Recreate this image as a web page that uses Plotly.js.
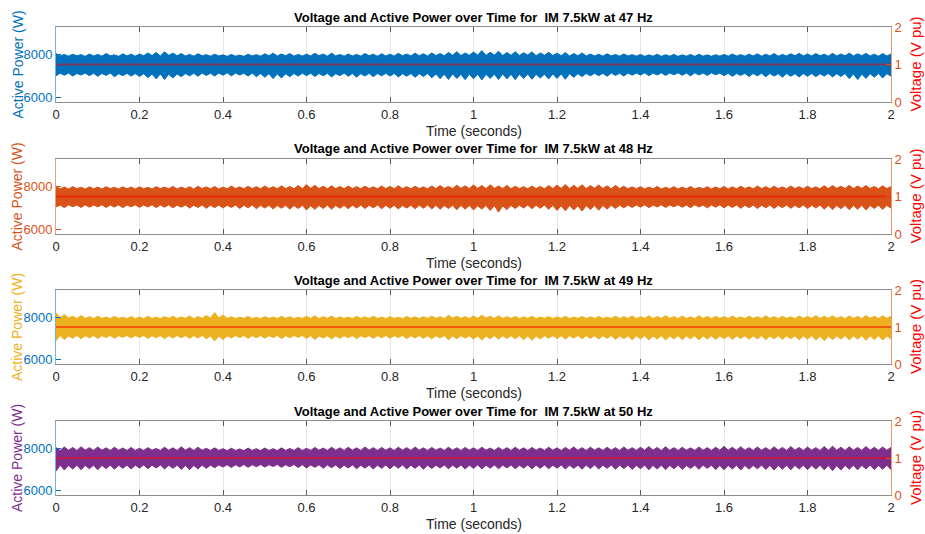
<!DOCTYPE html>
<html>
<head>
<meta charset="utf-8">
<script src="https://cdn.plot.ly/plotly-3.0.1.min.js"></script>
<style>
  html, body { margin: 0; padding: 0; background: #ffffff; }
  #chart { width: 925px; height: 534px; }
</style>
</head>
<body>
<div id="chart"></div>
<script>
// Supply frequencies of the four simulation runs (one panel each)
const frequenciesHz = [47, 48, 49, 50];

// Active power ripple envelope (W): successive peaks (upper) and troughs (lower),
// one value every 0.01 s from 0 to 2 s (ten values per row = 0.1 s)
const sampleStep = 0.01;

const powerUpper47 = [
  8060, 7950, 8020, 7940, 8030, 7960, 8010, 7930, 8040, 7950,
  8020, 7940, 8060, 7960, 8000, 7930, 8050, 7950, 8030, 7940,
  8040, 7960, 8090, 7970, 8110, 7950, 8140, 7980, 8080, 7960,
  8060, 7950, 8020, 7940, 8050, 7960, 8010, 7940, 8030, 7950,
  8000, 7930, 8020, 7940, 7990, 7930, 8030, 7950, 8010, 7940,
  8050, 7960, 8080, 7950, 8040, 7960, 8060, 7940, 8020, 7950,
  8030, 7950, 8070, 7960, 8040, 7940, 8080, 7950, 8020, 7940,
  8040, 7950, 8020, 7940, 8060, 7960, 8030, 7940, 8050, 7950,
  8030, 7950, 8070, 7960, 8040, 7950, 8080, 7960, 8050, 7950,
  8090, 7970, 8060, 7960, 8110, 7980, 8150, 7970, 8090, 7980,
  8130, 7990, 8200, 7980, 8120, 7990, 8170, 7970, 8110, 7980,
  8150, 7970, 8100, 7990, 8140, 7960, 8090, 7980, 8120, 7970,
  8080, 7960, 8110, 7950, 8060, 7960, 8090, 7950, 8040, 7950,
  8030, 7940, 8050, 7950, 8020, 7940, 8040, 7950, 8010, 7940,
  8020, 7930, 8000, 7940, 8030, 7930, 8010, 7940, 8020, 7930,
  8000, 7940, 8020, 7930, 8030, 7940, 8000, 7930, 8010, 7940,
  8020, 7940, 8040, 7950, 8010, 7940, 8030, 7950, 8050, 7940,
  8030, 7950, 8060, 7940, 8020, 7950, 8050, 7960, 8070, 7950,
  8040, 7950, 8060, 7960, 8030, 7940, 8070, 7950, 8040, 7960,
  8080, 7950, 8050, 7960, 8070, 7950, 8030, 7940, 8060, 7950,
  8040
];
const powerLower47 = [
  7020, 7140, 7050, 7150, 7010, 7130, 7060, 7150, 7030, 7140,
  7000, 7130, 7040, 7150, 6980, 7120, 7030, 7140, 7010, 7130,
  6990, 7120, 6940, 7100, 6880, 7110, 6850, 7090, 6920, 7110,
  6980, 7130, 7020, 7140, 7000, 7150, 7040, 7140, 7010, 7150,
  7050, 7160, 7020, 7150, 7060, 7140, 7010, 7150, 6980, 7130,
  6950, 7120, 6890, 7110, 6920, 7120, 6980, 7130, 7010, 7140,
  7030, 7140, 6990, 7130, 7020, 7140, 6970, 7120, 7030, 7150,
  7000, 7130, 6960, 7120, 7010, 7140, 6980, 7130, 7020, 7140,
  7010, 7130, 6970, 7120, 7000, 7130, 6950, 7120, 6990, 7130,
  6930, 7110, 6890, 7100, 6850, 7110, 6900, 7090, 6840, 7100,
  6880, 7100, 6830, 7090, 6900, 7100, 6850, 7110, 6880, 7090,
  6840, 7100, 6900, 7110, 6860, 7090, 6920, 7100, 6870, 7110,
  6900, 7110, 6860, 7120, 6950, 7120, 6990, 7130, 7020, 7140,
  7030, 7140, 7000, 7150, 7040, 7140, 7010, 7150, 7050, 7150,
  7060, 7160, 7030, 7150, 7060, 7160, 7040, 7150, 7070, 7160,
  7050, 7150, 7020, 7160, 7060, 7150, 7040, 7160, 7070, 7150,
  7030, 7140, 7000, 7130, 7040, 7140, 6990, 7130, 7020, 7140,
  6980, 7130, 7010, 7120, 6960, 7130, 7000, 7120, 6970, 7130,
  7000, 7130, 6980, 7120, 7010, 7130, 6970, 7120, 6990, 7130,
  6890, 7110, 6850, 7100, 6900, 7120, 6960, 7130, 6920, 7120,
  7010
];

const powerUpper48 = [
  8020, 7910, 7990, 7900, 8010, 7920, 7980, 7900, 8000, 7910,
  7990, 7900, 8010, 7920, 7980, 7900, 8000, 7910, 7990, 7900,
  8000, 7910, 7980, 7900, 8010, 7920, 7990, 7910, 8020, 7900,
  7990, 7910, 8010, 7900, 8030, 7920, 8000, 7910, 8020, 7900,
  7990, 7910, 8040, 7920, 8000, 7910, 8030, 7920, 8010, 7910,
  8040, 7920, 8010, 7910, 8050, 7920, 8020, 7910, 8060, 7920,
  8100, 7930, 8070, 7920, 8030, 7910, 8050, 7920, 8020, 7910,
  8040, 7920, 8010, 7910, 8030, 7920, 8000, 7910, 8040, 7920,
  8020, 7910, 8050, 7920, 8010, 7910, 8030, 7920, 8000, 7910,
  8040, 7920, 8060, 7930, 8020, 7920, 8080, 7930, 8050, 7920,
  8090, 7930, 8060, 7920, 8100, 7930, 8040, 7920, 8070, 7910,
  8030, 7920, 8010, 7910, 8040, 7920, 8020, 7910, 8060, 7920,
  8080, 7930, 8110, 7920, 8070, 7930, 8100, 7920, 8060, 7930,
  8090, 7920, 8050, 7910, 8070, 7920, 8030, 7910, 8000, 7910,
  8010, 7900, 7990, 7910, 8020, 7900, 7980, 7910, 8010, 7900,
  7990, 7910, 8020, 7900, 7980, 7910, 8010, 7900, 8000, 7910,
  8020, 7900, 8000, 7910, 8030, 7920, 8000, 7910, 8040, 7920,
  8010, 7910, 8030, 7920, 8000, 7910, 8040, 7920, 8010, 7910,
  8030, 7920, 8000, 7910, 8050, 7920, 8060, 7930, 8030, 7920,
  8070, 7920, 8040, 7930, 8060, 7920, 8020, 7910, 8050, 7920,
  8010
];
const powerLower48 = [
  7060, 7150, 7030, 7160, 7070, 7150, 7040, 7160, 7050, 7150,
  7070, 7160, 7040, 7150, 7060, 7160, 7030, 7150, 7070, 7160,
  7040, 7150, 7060, 7160, 7030, 7150, 7050, 7160, 7020, 7150,
  7050, 7150, 7010, 7140, 7040, 7150, 7000, 7140, 7030, 7150,
  7010, 7140, 7040, 7150, 6990, 7140, 7020, 7150, 6980, 7140,
  7010, 7140, 6970, 7130, 7000, 7140, 6960, 7130, 6990, 7140,
  6920, 7120, 6950, 7130, 6990, 7140, 6960, 7130, 7000, 7140,
  6980, 7140, 7010, 7150, 6990, 7140, 7020, 7150, 6980, 7140,
  7000, 7140, 6970, 7130, 7010, 7140, 6980, 7140, 7000, 7150,
  6970, 7140, 6950, 7130, 6990, 7140, 6930, 7130, 6960, 7130,
  6920, 7120, 6960, 7130, 6900, 7120, 6820, 7110, 6940, 7130,
  6990, 7140, 7010, 7150, 6980, 7140, 7000, 7150, 6950, 7140,
  6900, 7120, 6880, 7130, 6920, 7120, 6870, 7120, 6940, 7130,
  6910, 7130, 6960, 7140, 6990, 7140, 7020, 7150, 7040, 7150,
  7050, 7160, 7030, 7150, 7060, 7160, 7040, 7150, 7070, 7160,
  7050, 7150, 7030, 7160, 7060, 7150, 7020, 7150, 7050, 7160,
  7020, 7150, 7040, 7150, 7000, 7140, 7030, 7150, 6990, 7140,
  7020, 7150, 6990, 7140, 7030, 7150, 7000, 7140, 7020, 7150,
  6990, 7140, 7010, 7150, 6960, 7130, 6940, 7130, 6980, 7140,
  6930, 7130, 6960, 7140, 6920, 7130, 6990, 7140, 6950, 7130,
  7010
];

const powerUpper49 = [
  8230, 7960, 8150, 7970, 8060, 7950, 8090, 7960, 8040, 7950,
  8060, 7960, 8020, 7950, 8050, 7960, 8010, 7950, 8040, 7950,
  8020, 7950, 8050, 7960, 8010, 7950, 8040, 7960, 8060, 7950,
  8030, 7960, 8070, 7950, 8040, 7960, 8090, 7970, 8230, 7980,
  8120, 7960, 8040, 7950, 8020, 7960, 8050, 7950, 8010, 7950,
  8040, 7960, 8020, 7950, 8060, 7960, 8030, 7950, 8010, 7960,
  8050, 7960, 8080, 7950, 8040, 7960, 8070, 7950, 8030, 7960,
  8020, 7950, 8050, 7960, 8030, 7950, 8060, 7960, 8020, 7950,
  8040, 7960, 8010, 7950, 8050, 7960, 8030, 7950, 8040, 7960,
  8060, 7960, 8030, 7950, 8100, 7970, 8060, 7960, 8040, 7950,
  8070, 7960, 8110, 7970, 8060, 7960, 8080, 7950, 8040, 7960,
  8050, 7950, 8030, 7960, 8060, 7950, 8020, 7960, 8040, 7950,
  8030, 7960, 8060, 7950, 8020, 7960, 8050, 7950, 8030, 7960,
  8050, 7950, 8020, 7960, 8060, 7950, 8040, 7960, 8070, 7950,
  8040, 7960, 8080, 7950, 8050, 7960, 8090, 7960, 8040, 7950,
  8070, 7960, 8030, 7950, 8080, 7960, 8050, 7950, 8060, 7960,
  8040, 7950, 8070, 7960, 8030, 7950, 8060, 7960, 8040, 7950,
  8080, 7960, 8040, 7950, 8060, 7960, 8030, 7950, 8070, 7960,
  8050, 7960, 8090, 7950, 8060, 7960, 8080, 7960, 8040, 7950,
  8070, 7960, 8050, 7950, 8090, 7960, 8060, 7950, 8080, 7960,
  8060
];
const powerLower49 = [
  6900, 7140, 6960, 7130, 7020, 7150, 6990, 7140, 7040, 7150,
  7010, 7140, 7050, 7150, 7020, 7140, 7060, 7150, 7030, 7150,
  7050, 7150, 7010, 7140, 7040, 7150, 7000, 7140, 7030, 7150,
  7040, 7150, 7010, 7140, 7030, 7150, 6990, 7130, 6890, 7120,
  6960, 7130, 7030, 7150, 7050, 7150, 7010, 7140, 7040, 7150,
  7020, 7140, 7050, 7150, 7000, 7140, 7040, 7150, 7060, 7150,
  7010, 7140, 6960, 7130, 7030, 7140, 6980, 7130, 7020, 7140,
  7040, 7150, 7000, 7140, 7050, 7150, 7010, 7140, 7040, 7150,
  7020, 7140, 7050, 7150, 7000, 7140, 7030, 7150, 7010, 7140,
  6990, 7140, 7030, 7150, 6940, 7130, 6990, 7140, 7020, 7140,
  6980, 7130, 6930, 7130, 7000, 7140, 6970, 7140, 7010, 7140,
  6990, 7140, 6950, 7130, 6920, 7130, 6980, 7140, 7020, 7150,
  7000, 7140, 6970, 7140, 7020, 7150, 6990, 7140, 7010, 7140,
  6980, 7140, 7020, 7140, 6960, 7130, 7000, 7140, 6950, 7130,
  6990, 7140, 6940, 7130, 6980, 7140, 6930, 7130, 6990, 7140,
  6950, 7130, 6990, 7140, 6940, 7130, 6980, 7140, 6960, 7130,
  7000, 7140, 6960, 7130, 7010, 7140, 6970, 7130, 6990, 7140,
  6950, 7130, 6990, 7140, 6960, 7130, 7000, 7140, 6940, 7130,
  6980, 7140, 6930, 7130, 6900, 7120, 6950, 7130, 6980, 7140,
  6940, 7130, 6980, 7140, 6920, 7130, 6960, 7140, 6930, 7130,
  6980
];

const powerUpper50 = [
  8040, 7910, 8070, 7920, 8050, 7910, 8080, 7920, 8040, 7910,
  8070, 7920, 8030, 7910, 8060, 7920, 8020, 7910, 8050, 7910,
  8010, 7910, 8040, 7920, 8000, 7910, 8060, 7920, 8030, 7910,
  8080, 7920, 8040, 7910, 8060, 7920, 8010, 7910, 8030, 7910,
  7990, 7900, 8010, 7910, 7980, 7900, 8020, 7910, 7990, 7900,
  8020, 7910, 7990, 7900, 8030, 7910, 8000, 7910, 8040, 7910,
  8010, 7910, 8050, 7920, 8020, 7910, 8060, 7920, 8030, 7910,
  8060, 7920, 8030, 7910, 8070, 7920, 8040, 7910, 8050, 7920,
  8030, 7910, 8060, 7920, 8040, 7910, 8070, 7920, 8030, 7910,
  8050, 7920, 8020, 7910, 8060, 7920, 8030, 7910, 8050, 7920,
  8030, 7910, 8060, 7920, 8020, 7910, 8050, 7920, 8040, 7910,
  8060, 7920, 8030, 7910, 8050, 7920, 8020, 7910, 8060, 7920,
  8030, 7910, 8050, 7920, 8070, 7920, 8040, 7910, 8060, 7920,
  8030, 7910, 8060, 7920, 8040, 7910, 8070, 7920, 8040, 7910,
  8060, 7920, 8090, 7920, 8050, 7910, 8080, 7920, 8040, 7910,
  8060, 7920, 8030, 7910, 8070, 7920, 8040, 7910, 8060, 7920,
  8100, 7920, 8060, 7910, 8080, 7920, 8040, 7910, 8070, 7920,
  8040, 7910, 8080, 7920, 8050, 7910, 8090, 7920, 8050, 7910,
  8070, 7920, 8040, 7910, 8090, 7920, 8110, 7920, 8060, 7910,
  8080, 7920, 8050, 7910, 8090, 7920, 8060, 7910, 8070, 7920,
  8050
];
const powerLower50 = [
  6930, 7210, 6980, 7200, 7030, 7210, 7000, 7200, 7040, 7210,
  6990, 7200, 7050, 7210, 7020, 7210, 7060, 7210, 7030, 7210,
  7070, 7220, 7040, 7210, 7080, 7220, 7030, 7210, 7060, 7210,
  7010, 7200, 6990, 7200, 7030, 7210, 7060, 7210, 7090, 7220,
  7120, 7230, 7100, 7230, 7130, 7240, 7110, 7230, 7140, 7240,
  7120, 7230, 7150, 7240, 7110, 7230, 7140, 7240, 7100, 7230,
  7080, 7220, 7110, 7230, 7060, 7220, 7090, 7220, 7050, 7210,
  7080, 7220, 7040, 7210, 7070, 7220, 7030, 7210, 7060, 7220,
  7040, 7210, 7070, 7220, 7030, 7210, 7060, 7220, 7020, 7210,
  7050, 7210, 7080, 7220, 7040, 7210, 7070, 7220, 7030, 7210,
  7060, 7220, 7030, 7210, 7070, 7220, 7040, 7210, 7080, 7220,
  7040, 7210, 7070, 7220, 7030, 7210, 7060, 7220, 7040, 7210,
  7070, 7220, 7030, 7210, 7060, 7210, 7020, 7210, 7050, 7220,
  7030, 7210, 7060, 7220, 7020, 7210, 7050, 7210, 7010, 7200,
  7040, 7210, 6990, 7200, 7030, 7210, 7000, 7200, 7040, 7210,
  7010, 7200, 7050, 7210, 7020, 7210, 7060, 7210, 7000, 7200,
  6990, 7200, 7030, 7210, 6980, 7200, 7020, 7200, 7040, 7210,
  7010, 7200, 6980, 7200, 7020, 7210, 6990, 7200, 7030, 7210,
  7000, 7200, 7030, 7210, 6990, 7200, 6950, 7190, 6980, 7200,
  7020, 7210, 6990, 7200, 7030, 7210, 7000, 7200, 7020, 7210,
  7000
];

// Supply voltage (per unit) at start and end of each run
const voltageTime = [0, 2];
const voltage47 = [1, 1];
const voltage48 = [1, 1];
const voltage49 = [1, 1];
const voltage50 = [1, 1];

// Axis ticks
const timeTicks = [0, 0.2, 0.4, 0.6, 0.8, 1, 1.2, 1.4, 1.6, 1.8, 2];
const timeTickLabels = ["0", "0.2", "0.4", "0.6", "0.8", "1", "1.2", "1.4", "1.6", "1.8", "2"];
const powerTicks = [6000, 8000];
const powerTickLabels = ["6000", "8000"];
const voltageTicks = [0, 1, 2];
const voltageTickLabels = ["0", "1", "2"];

const powerUpper = [powerUpper47, powerUpper48, powerUpper49, powerUpper50];
const powerLower = [powerLower47, powerLower48, powerLower49, powerLower50];
const voltages = [voltage47, voltage48, voltage49, voltage50];

// Styling
const seriesColors = ["#0072BD", "#D95319", "#EDB120", "#7E2F8E"];
const leftTickColors = ["#0072BD", "#D95319", "#0072BD", "#0072BD"];
const rightColor = "#D95319";
const FONT = "Liberation Sans, Arial, Helvetica, sans-serif";
const W = 925, H = 534;
// panel top/bottom in pixels
const panelPx = [[27, 102], [159, 234], [290, 364], [421, 495]];

const traces = [];
const layout = {
  width: W, height: H,
  margin: { l: 56, r: 34, t: 0, b: 0 },
  paper_bgcolor: "#ffffff",
  plot_bgcolor: "#ffffff",
  showlegend: false,
  font: { family: FONT, color: "#262626", size: 13 },
  annotations: []
};

function fade(hex, a) {
  const n = parseInt(hex.slice(1), 16);
  return `rgba(${(n >> 16) & 255},${(n >> 8) & 255},${n & 255},${a})`;
}

frequenciesHz.forEach((hz, i) => {
  const xs = i === 0 ? "" : String(i + 1);
  const yl = 2 * i + 1, yr = 2 * i + 2;
  const ylKey = yl === 1 ? "" : String(yl);
  const xName = "x" + xs, ylName = "y" + ylKey, yrName = "y" + yr;
  const t = powerUpper[i].map((_, k) => +(k * sampleStep).toFixed(3));
  const color = seriesColors[i];
  const [top, bot] = panelPx[i];
  const domain = [1 - bot / H, 1 - top / H];

  traces.push({
    x: t, y: powerLower[i], xaxis: xName, yaxis: ylName,
    type: "scatter", mode: "lines",
    line: { color: color, width: 1 }, hoverinfo: "skip"
  });
  traces.push({
    x: t, y: powerUpper[i], xaxis: xName, yaxis: ylName,
    type: "scatter", mode: "lines", fill: "tonexty", fillcolor: color,
    line: { color: color, width: 1 }, hoverinfo: "skip"
  });
  traces.push({
    x: voltageTime, y: voltages[i], xaxis: xName, yaxis: yrName,
    type: "scatter", mode: "lines",
    line: { color: "rgba(255,0,0,0.5)", width: 2 }, hoverinfo: "skip"
  });

  layout["xaxis" + xs] = {
    domain: [0, 1], anchor: ylName, range: [0, 2],
    tickmode: "array", tickvals: timeTicks, ticktext: timeTickLabels,
    ticks: "inside", ticklen: 5, tickwidth: 1, tickcolor: "#5a5a5a",
    showline: true, linecolor: "#8c8c8c", linewidth: 1, mirror: "ticks",
    showgrid: true, gridcolor: "#e6e6e6", gridwidth: 1, zeroline: false,
    tickfont: { family: FONT, size: 13, color: "#262626" }
  };
  layout["yaxis" + ylKey] = {
    domain: domain, anchor: xName, range: [5800, 9300],
    tickmode: "array", tickvals: powerTicks, ticktext: powerTickLabels,
    ticks: "inside", ticklen: 5, tickwidth: 1, tickcolor: leftTickColors[i],
    showline: true, linecolor: fade(leftTickColors[i], 0.55), linewidth: 1,
    showgrid: false, zeroline: false,
    tickfont: { family: FONT, size: 13, color: leftTickColors[i] }
  };
  layout["yaxis" + yr] = {
    domain: domain, anchor: xName, overlaying: ylName, side: "right",
    range: [0, 2],
    tickmode: "array", tickvals: voltageTicks, ticktext: voltageTickLabels,
    ticks: "inside", ticklen: 5, tickwidth: 1, tickcolor: rightColor,
    showline: true, linecolor: fade(rightColor, 0.6), linewidth: 1,
    showgrid: false, zeroline: false,
    tickfont: { family: FONT, size: 13, color: rightColor }
  };

  // panel title
  layout.annotations.push({
    text: `<b>Voltage and Active Power over Time for  IM 7.5kW at ${hz} Hz</b>`,
    xref: "paper", yref: "paper", x: 0.5, y: domain[1],
    xanchor: "center", yanchor: "middle", yshift: 10, showarrow: false,
    font: { family: FONT, size: 13, color: "#000000" }
  });
  // time axis label
  layout.annotations.push({
    text: "Time (seconds)",
    xref: "paper", yref: "paper", x: 0.5, y: domain[0],
    xanchor: "center", yanchor: "middle", yshift: -29, showarrow: false,
    font: { family: FONT, size: 14, color: "#262626" }
  });
  // left axis label
  layout.annotations.push({
    text: "Active Power (W)",
    xref: "paper", yref: "paper", x: 0, y: (domain[0] + domain[1]) / 2,
    xanchor: "center", yanchor: "middle", xshift: -39, textangle: -90,
    showarrow: false,
    font: { family: FONT, size: 14, color: color }
  });
  // right axis label
  layout.annotations.push({
    text: "Voltage (V pu)",
    xref: "paper", yref: "paper", x: 1, y: (domain[0] + domain[1]) / 2,
    xanchor: "center", yanchor: "middle", xshift: 24, textangle: -90,
    showarrow: false,
    font: { family: FONT, size: 15, color: "#FF0000" }
  });
});

Plotly.newPlot("chart", traces, layout, { staticPlot: true, displayModeBar: false });
</script>
</body>
</html>
